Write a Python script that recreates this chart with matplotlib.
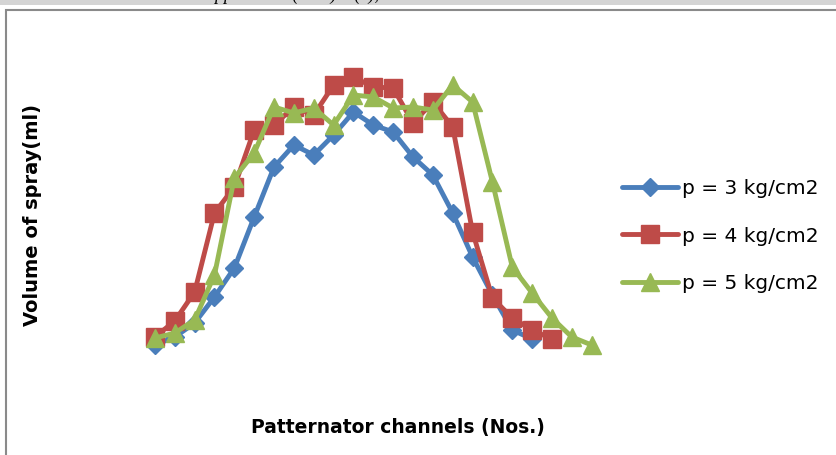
from matplotlib import pyplot as plt
from matplotlib.patches import Rectangle
import numpy as np

# volume of spray (arbitrary ml scale), per patternator channel
p3 = [1.5, 2.3, 3.7, 6.3, 9.2, 14.3, 19.3, 21.5, 20.5, 22.5, 24.8, 23.5,
      22.8, 20.3, 18.5, 14.7, 10.3, 6.5, 3.0, 2.1]
p4 = [2.3, 3.9, 6.8, 14.7, 17.3, 23.0, 23.5, 25.3, 24.5, 27.5, 28.3, 27.3,
      27.2, 23.7, 25.8, 23.3, 12.8, 6.2, 4.2, 3.0, 2.1]
p5 = [2.2, 2.7, 4.0, 8.5, 18.2, 20.7, 25.3, 24.7, 25.2, 23.5, 26.5, 26.3,
      25.2, 25.3, 25.0, 27.5, 25.8, 17.8, 9.3, 6.7, 4.2, 2.3, 1.5]
labels = ['p = 3 kg/cm2', 'p = 4 kg/cm2', 'p = 5 kg/cm2']

W, H = 837, 455
fig = plt.figure(figsize=(W/100, H/100), dpi=100)

# grey strip + clipped caption at the very top (page crop)
fig.patches.append(Rectangle((0, 1 - 5/H), 1, 5/H, transform=fig.transFigure,
                             facecolor='#d4d4d4', edgecolor='none'))
fig.text(0.245, 1 + 0.5/H, 'Application (ml/h) \u2013 (c),', fontsize=13,
         family='Liberation Serif', style='italic', va='baseline', ha='left')

# chart frame
fig.patches.append(Rectangle((6/W, -0.05), 1.1, 1 - 10/H + 0.05,
                             transform=fig.transFigure, facecolor='none',
                             edgecolor='#8a8a8a', lw=1.5))

ax = fig.add_axes([145/W, (H-360)/H, 456.6/W, 300/H])
cols = ['#4a7ebb', '#be4b48', '#98b954']
marks = ['D', 's', '^']
sizes = [9, 12.5, 12.5]
for ys, lab, c, m, s in zip([p3, p4, p5], labels, cols, marks, sizes):
    x = np.arange(1, len(ys) + 1)
    ax.plot(x, ys, color=c, lw=3.5, marker=m, ms=s, label=lab,
            solid_joinstyle='round', solid_capstyle='round')

ax.set_xlim(0.5, 23.5)
ax.set_ylim(0, 30)
ax.axis('off')

fig.text(398/W, (H-427)/H, 'Patternator channels (Nos.)', fontsize=13.5,
         fontweight='bold', ha='center', va='center')
fig.text(33/W, (H-215)/H, 'Volume of spray(ml)', fontsize=14,
         fontweight='bold', ha='center', va='center', rotation=90)

ax.legend(loc='center left', bbox_to_anchor=(622/W, (H-236)/H),
          bbox_transform=fig.transFigure, frameon=False, fontsize=14.5,
          handlelength=2.8, handletextpad=0.2, labelspacing=1.4,
          borderpad=0, borderaxespad=0)

fig.savefig('out.png', dpi=100)
